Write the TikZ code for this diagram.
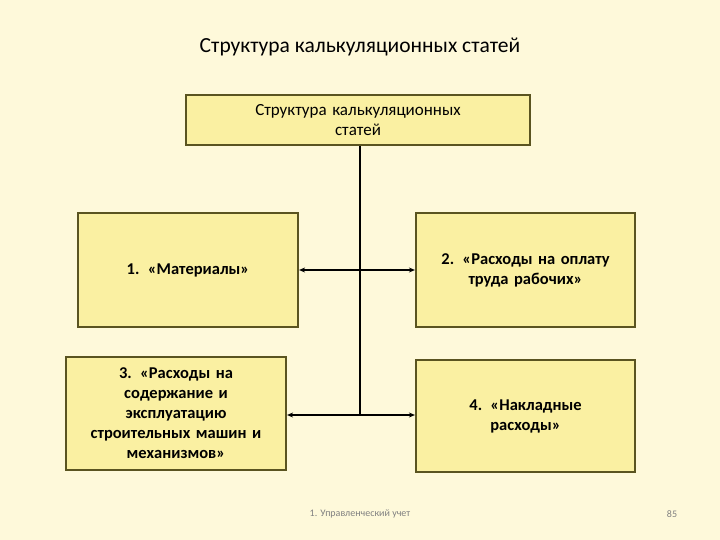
\documentclass[tikz,border=0pt]{standalone}
\usepackage{fontspec}
\setmainfont{Carlito}
\usetikzlibrary{arrows.meta}
\definecolor{bg}{HTML}{FEF9DA}
\definecolor{boxfill}{HTML}{FAF0A2}
\definecolor{boxline}{HTML}{5A5420}
\tikzset{x=1pt,y=-1pt,
 box/.style={draw=boxline,line width=2.2pt,fill=boxfill,align=center,font=\bfseries\fontsize{16.5}{20}\selectfont,inner sep=2pt},
 conn/.style={line width=1.2pt,draw=black},
 arr/.style={conn,{Stealth[length=6pt,width=5pt]}-{Stealth[length=6pt,width=5pt]}}}
\begin{document}
\begin{tikzpicture}
\fill[bg] (0,0) rectangle (720,540);
\useasboundingbox (0,0) rectangle (720,540);
\node[font=\fontsize{21.5}{25}\selectfont] (title) at (360,47) {Структура калькуляционных статей};
\node[box,minimum width=344,minimum height=50,text width=330,font=\fontsize{17}{20}\selectfont] (top) at (358,120) {Структура калькуляционных\\статей};
\node[box,minimum width=220,minimum height=114,text width=212] (b1) at (188,270) {1. «Материалы»};
\node[box,minimum width=219,minimum height=114,text width=212] (b2) at (525.5,270) {2. «Расходы на оплату\\труда рабочих»};
\node[box,minimum width=220,minimum height=113,text width=214] (b3) at (176,413.5) {3. «Расходы на\\содержание и\\эксплуатацию\\строительных машин и\\механизмов»};
\node[box,minimum width=219,minimum height=112,text width=212] (b4) at (525.5,416) {4. «Накладные\\расходы»};
\coordinate (j) at (360,270);
\coordinate (bot) at (360,415);
\draw[conn] (top.south -| j) -- (bot);
\draw[arr] (b1.east) -- (b1.east -| b2.west);
\draw[arr] (b3.east |- bot) -- (b4.west |- bot);
\node[font=\fontsize{10}{12}\selectfont,text=gray] (foot) at (360,514) {1. Управленческий учет};
\node[font=\fontsize{10}{12}\selectfont,text=gray] (pg) at (672,514) {85};
\end{tikzpicture}
\end{document}
